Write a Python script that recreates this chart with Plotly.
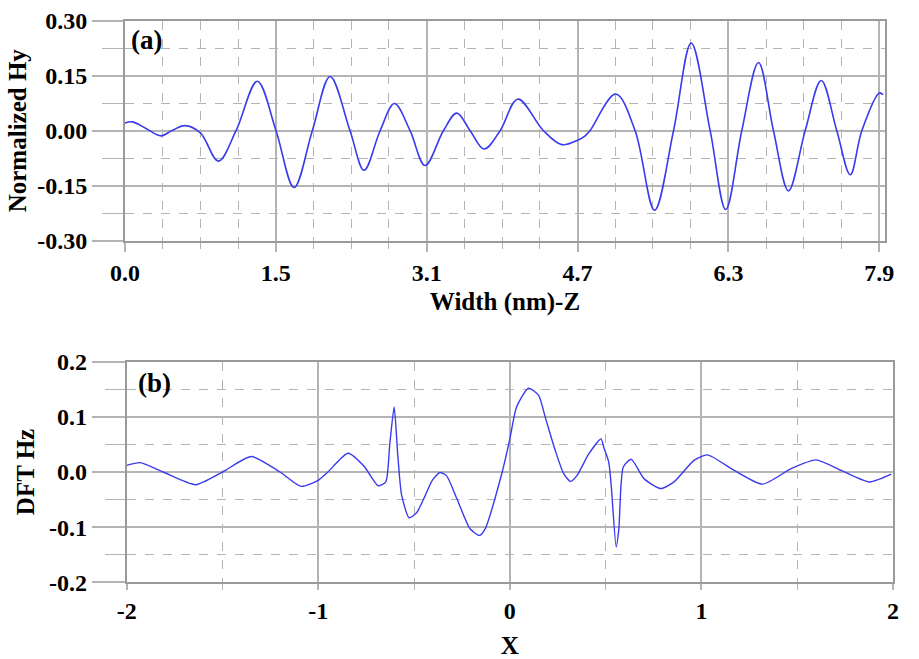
import plotly.graph_objects as go

# Panel (a): normalized Hy versus width (nm) along Z
z_nm = [0.00, 0.08, 0.22, 0.377, 0.489, 0.629, 0.79, 0.978, 1.163, 1.386, 1.582,
        1.771, 1.962, 2.148, 2.357, 2.504, 2.672, 2.822, 2.986, 3.143, 3.335, 3.475,
        3.615, 3.761, 3.929, 4.114, 4.383, 4.575, 4.74, 4.82, 4.87, 5.14, 5.343,
        5.546, 5.745, 5.930, 6.129, 6.292, 6.46, 6.635, 6.792, 6.949, 7.124, 7.292,
        7.455, 7.596, 7.717, 7.90, 7.94]
hy = [0.021, 0.024, 0.006, -0.014, 0.0, 0.014, -0.006, -0.083, 0.0, 0.135, 0.0,
      -0.155, 0.0, 0.148, 0.0, -0.108, 0.0, 0.074, 0.0, -0.095, 0.0, 0.048,
      0.0, -0.050, 0.0, 0.086, 0.0, -0.038, -0.026, -0.014, 0.0, 0.100, 0.0,
      -0.217, 0.0, 0.239, 0.0, -0.215, 0.0, 0.186, 0.0, -0.164, 0.0, 0.137,
      0.0, -0.120, 0.0, 0.103, 0.098]

# Panel (b): DFT of Hz versus X
x_dft = [-2.00, -1.93, -1.81, -1.64, -1.50, -1.35, -1.20, -1.09, -1.00, -0.95,
         -0.845, -0.76, -0.688, -0.648, -0.627, -0.604, -0.585, -0.565, -0.526,
         -0.487, -0.445, -0.405, -0.365, -0.33, -0.277, -0.208, -0.159, -0.129,
         -0.04, 0.0, 0.035, 0.097, 0.150, 0.185, 0.237, 0.281, 0.316, 0.351,
         0.412, 0.476, 0.490, 0.516, 0.529, 0.555, 0.569, 0.592, 0.634, 0.700,
         0.787, 0.857, 0.961, 1.031, 1.171, 1.319, 1.468, 1.598, 1.729, 1.877,
         1.991]
dft_hz = [0.012, 0.017, 0.0, -0.023, 0.0, 0.028, 0.0, -0.026, -0.015, 0.0,
          0.034, 0.010, -0.025, -0.018, 0.050, 0.118, 0.030, -0.042, -0.083,
          -0.074, -0.045, -0.015, -0.001, -0.007, -0.048, -0.103, -0.115, -0.103,
          0.0, 0.060, 0.118, 0.152, 0.139, 0.099, 0.039, -0.003, -0.017, -0.006,
          0.033, 0.060, 0.045, 0.018, -0.024, -0.136, -0.103, 0.009, 0.023, -0.012,
          -0.030, -0.018, 0.021, 0.031, 0.003, -0.022, 0.006, 0.022, 0.003, -0.018,
          -0.004]

# Axis ticks
a_xticks = [0.0, 1.58, 3.16, 4.74, 6.32, 7.90]
a_xlabels = ["0.0", "1.5", "3.1", "4.7", "6.3", "7.9"]
a_yticks = [-0.30, -0.15, 0.0, 0.15, 0.30]
a_ylabels = ["-0.30", "-0.15", "0.00", "0.15", "0.30"]
b_xticks = [-2, -1, 0, 1, 2]
b_xlabels = ["-2", "-1", "0", "1", "2"]
b_yticks = [-0.2, -0.1, 0.0, 0.1, 0.2]
b_ylabels = ["-0.2", "-0.1", "0.0", "0.1", "0.2"]

LINE_BLUE = "#3a3aee"
FRAME = "#9a9a9a"
GRID = "#b4b4b4"
SERIF = "Liberation Serif, Times New Roman, serif"
tick_font = dict(family=SERIF, size=24, color="black", weight="bold")
title_font = dict(family=SERIF, size=25, color="black", weight="bold")
panel_font = dict(family=SERIF, size=27, color="black", weight="bold")

fig = go.Figure()
fig.add_trace(go.Scatter(x=z_nm, y=hy, mode="lines", xaxis="x", yaxis="y",
                         line=dict(color=LINE_BLUE, width=1.6, shape="spline", smoothing=1.0),
                         showlegend=False))
fig.add_trace(go.Scatter(x=x_dft, y=dft_hz, mode="lines", xaxis="x2", yaxis="y2",
                         line=dict(color=LINE_BLUE, width=1.4, shape="spline", smoothing=0.6),
                         showlegend=False))


def axis_style(minor_step, major_len, minor_len, **kw):
    base = dict(showline=True, linecolor=FRAME, linewidth=2, mirror=True,
                showgrid=True, gridcolor=GRID, gridwidth=1.5, automargin=False,
                ticks="outside", tickcolor=GRID, tickwidth=1.5, ticklen=major_len,
                tickfont=tick_font, zeroline=False, fixedrange=True, tickmode="array",
                minor=dict(dtick=minor_step, tick0=0, showgrid=True, gridcolor=GRID,
                           griddash="dash", gridwidth=1.2, ticks="outside",
                           ticklen=minor_len, tickcolor=GRID, tickwidth=1.2))
    base.update(kw)
    return base


fig.update_layout(
    width=919, height=659,
    margin=dict(l=0, r=0, t=0, b=0, autoexpand=False),
    paper_bgcolor="white", plot_bgcolor="white",
    xaxis=axis_style(0.395, 9, 6, domain=[0.136, 0.963], anchor="y", range=[0, 7.96],
                     tickvals=a_xticks, ticktext=a_xlabels,
                     title=dict(text="Width (nm)-Z", font=title_font, standoff=8)),
    yaxis=axis_style(0.075, 31, 21, domain=[0.6347, 0.9686], anchor="x", range=[-0.30, 0.30],
                     tickvals=a_yticks, ticktext=a_ylabels,
                     title=dict(text="Normalized Hy", font=title_font, standoff=3)),
    xaxis2=axis_style(0.5, 6, 6, domain=[0.1379, 0.9717], anchor="y2", range=[-2, 2],
                      tickvals=b_xticks, ticktext=b_xlabels,
                      title=dict(text="X", font=title_font, standoff=14)),
    yaxis2=axis_style(0.05, 33, 20, domain=[0.1164, 0.4511], anchor="x2", range=[-0.2, 0.2],
                      tickvals=b_yticks, ticktext=b_ylabels,
                      title=dict(text="DFT Hz", font=title_font, standoff=7)),
    annotations=[
        dict(text="(a)", x=0.005, y=0.99, xref="x domain", yref="y domain",
             xanchor="left", yanchor="top", showarrow=False, font=panel_font),
        dict(text="(b)", x=0.012, y=0.98, xref="x2 domain", yref="y2 domain",
             xanchor="left", yanchor="top", showarrow=False, font=panel_font),
    ],
)

fig.write_html("out.html")
